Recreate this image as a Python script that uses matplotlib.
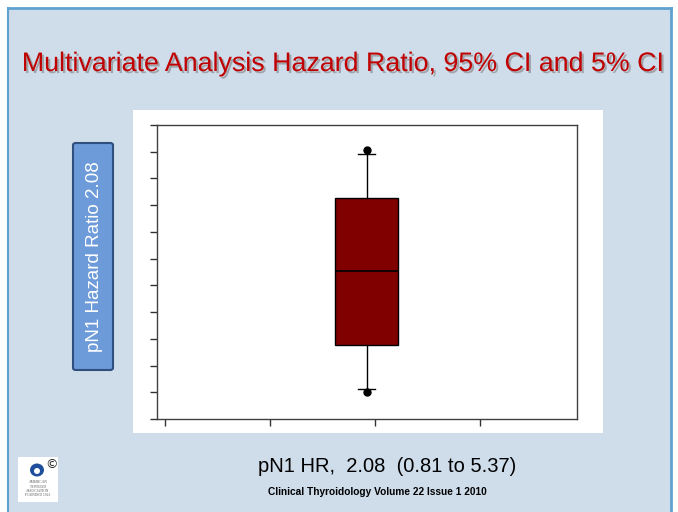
#%% IMPORTS
import matplotlib
matplotlib.use('Agg')
import matplotlib.pyplot as plt
import matplotlib.patches as mpatches
import matplotlib.patheffects as pe

#%% DATA
# box statistics in units of the y tick spacing
box_pos = 1.92
box_stats = {'med': 5.525, 'q1': 2.775, 'q3': 8.275,
             'whislo': 1.11, 'whishi': 9.925,
             'fliers': [1.025, 10.05]}
y_ticks = list(range(0, 12))
x_ticks = [0, 1, 2, 3]

title_text = 'Multivariate Analysis Hazard Ratio, 95% CI and 5% CI'
side_label = 'pN1 Hazard Ratio 2.08'
hr_text = 'pN1 HR,  2.08  (0.81 to 5.37)'
source_text = 'Clinical Thyroidology Volume 22 Issue 1 2010'

#%% CONFIGURATION
W, H = 678, 512
bg = '#cfdcea'
border = '#5fa2cf'
sans = ['Liberation Sans', 'DejaVu Sans']


def fx(px):
    return px / W


def fy(py):
    return 1 - py / H


#%% FIGURE
fig = plt.figure(figsize=(W / 100, H / 100), dpi=100)
fig.patch.set_facecolor('white')

# slide background with border
fig.patches.append(mpatches.Rectangle((fx(8), 0), fx(663), fy(8), transform=fig.transFigure,
                                      facecolor=bg, edgecolor='none', zorder=0))
fig.lines.append(plt.Line2D([fx(8), fx(671)], [fy(8), fy(8)], transform=fig.transFigure,
                            color=border, lw=2))
fig.lines.append(plt.Line2D([fx(8), fx(8)], [0, fy(8)], transform=fig.transFigure,
                            color=border, lw=1.5))
fig.lines.append(plt.Line2D([fx(671), fx(671)], [0, fy(8)], transform=fig.transFigure,
                            color=border, lw=2))

# white panel behind the chart
fig.patches.append(mpatches.Rectangle((fx(133), fy(433)), fx(603 - 133), (433 - 110) / H,
                                      transform=fig.transFigure, facecolor='white',
                                      edgecolor='none', zorder=1))

# title with shadow
fig.text(fx(342), fy(64), title_text, ha='center', va='center', fontsize=19.3,
         color='#c00000', family=sans,
         path_effects=[pe.withSimplePatchShadow(offset=(1.5, -1.5), shadow_rgbFace='#808080', alpha=0.6)])

#%% AXES
ax = fig.add_axes([fx(156.7), fy(419), fx(576.7 - 156.7), (419 - 125) / H])
ax.set_zorder(3)
ax.set_facecolor('white')
ax.bxp([box_stats], positions=[box_pos], widths=0.603, capwidths=0.16,
       patch_artist=True, showfliers=True,
       boxprops=dict(facecolor='#800000', edgecolor='black', lw=1),
       medianprops=dict(color='black', lw=1.2),
       whiskerprops=dict(color='black', lw=1),
       capprops=dict(color='black', lw=1),
       flierprops=dict(marker='o', markerfacecolor='black', markeredgecolor='black', markersize=5))
ax.set_xlim(-0.079, 3.921)
ax.set_ylim(0, 11)
ax.set_yticks(y_ticks)
ax.set_xticks(x_ticks)
ax.set_yticklabels([])
ax.set_xticklabels([])
ax.tick_params(direction='out', length=5, width=1, color='#333333')
for s in ax.spines.values():
    s.set_color('#404040')
    s.set_linewidth(1)

#%% SIDE LABEL BOX
fig.patches.append(mpatches.FancyBboxPatch((fx(73), fy(370)), fx(40), (370 - 143) / H,
                                           boxstyle='round,pad=0,rounding_size=0.004',
                                           transform=fig.transFigure, facecolor='#6d9ad8',
                                           edgecolor='#2f4f7f', lw=1.5, zorder=2))
fig.text(fx(94), fy(257), side_label, rotation=90, ha='center', va='center',
         fontsize=13.5, color='white', family=sans, zorder=3)

#%% BOTTOM TEXT
fig.text(fx(387), fy(466), hr_text, ha='center', va='center', fontsize=14.5,
         color='black', family=sans)
fig.text(fx(377), fy(492), source_text, ha='center', va='center', fontsize=7.3,
         color='black', fontweight='bold', family=sans)

#%% LOGO
fig.patches.append(mpatches.Rectangle((fx(18), fy(502)), fx(40), 45 / H, transform=fig.transFigure,
                                      facecolor='white', edgecolor='none', zorder=2))
fig.patches.append(mpatches.Ellipse((fx(37), fy(470)), fx(14), 13 / H, transform=fig.transFigure,
                                    facecolor='#1f4f9c', edgecolor='none', zorder=3))
fig.patches.append(mpatches.Ellipse((fx(37), fy(471)), fx(6), 6 / H, transform=fig.transFigure,
                                    facecolor='white', edgecolor='none', zorder=4))
fig.text(fx(51), fy(465), '\u00a9', ha='center', va='center', fontsize=9, color='#222222', zorder=4)
for i, line in enumerate(['AMERICAN', 'THYROID', 'ASSOCIATION', 'FOUNDED 1923']):
    fig.text(fx(38), fy(482 + i * 4.5), line, ha='center', va='center', fontsize=2.6,
             color='#555555', family='Liberation Serif', zorder=4)

fig.savefig('out.png', dpi=100, facecolor=fig.get_facecolor())
